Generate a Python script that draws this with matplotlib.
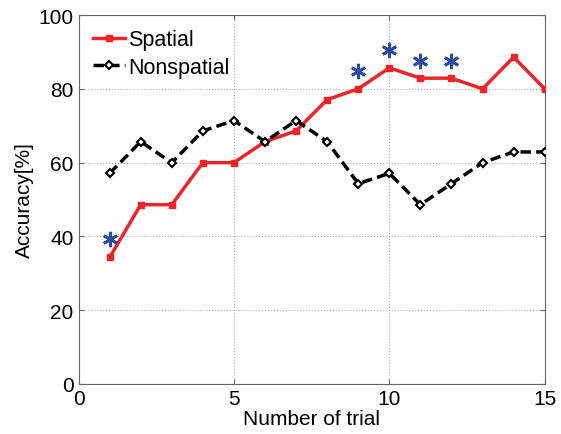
import matplotlib
matplotlib.use("Agg")
import matplotlib.pyplot as plt

trials = list(range(1, 16))
spatial = [34.3, 48.6, 48.6, 60.0, 60.0, 65.7, 68.6, 77.1, 80.0, 85.7, 82.9, 82.9, 80.0, 88.6, 80.0]
nonspatial = [57.1, 65.7, 60.0, 68.6, 71.4, 65.7, 71.4, 65.7, 54.3, 57.1, 48.6, 54.3, 60.0, 62.9, 62.9]
star_x = [1, 9, 10, 11, 12]
star_y = [39.3, 84.9, 90.6, 87.6, 87.6]

plt.rcParams['font.family'] = ['Liberation Sans', 'DejaVu Sans']

fig = plt.figure(figsize=(5.61, 4.35), dpi=100)
ax = fig.add_axes([0.140, 0.115, 0.831, 0.848])

ax.plot(trials, spatial, '-', color='#EE2528', lw=2.5, marker='s', ms=5,
        mfc='#EE2528', mec='#EE2528', label='Spatial', zorder=3)
ax.plot(trials, nonspatial, '--', color='black', lw=2.5, marker='D', ms=4,
        mfc='white', mec='black', mew=1.5, label='Nonspatial', zorder=3,
        dashes=(3, 1.5))
ax.plot(star_x, star_y, linestyle='none', marker=(6, 2, 0), ms=11, mew=2,
        color='#2B4BA0', zorder=4)

ax.set_xlim(0, 15)
ax.set_ylim(0, 100)
ax.set_xticks([0, 5, 10, 15])
ax.set_yticks([0, 20, 40, 60, 80, 100])
ax.grid(True, linestyle=':', color='#AAAAAA', lw=0.8)
ax.tick_params(labelsize=15, direction='in', top=True, right=True, color='#666666')
for s in ax.spines.values():
    s.set_color('#666666')
ax.set_xlabel('Number of trial', fontsize=15, labelpad=1)
ax.set_ylabel('Accuracy[%]', fontsize=15, labelpad=3)

leg = ax.legend(loc='upper left', fontsize=15.5, frameon=False, handlelength=1.5,
                handletextpad=0.15, borderaxespad=0.25, labelspacing=0.3)

fig.savefig('out.png', dpi=100)
